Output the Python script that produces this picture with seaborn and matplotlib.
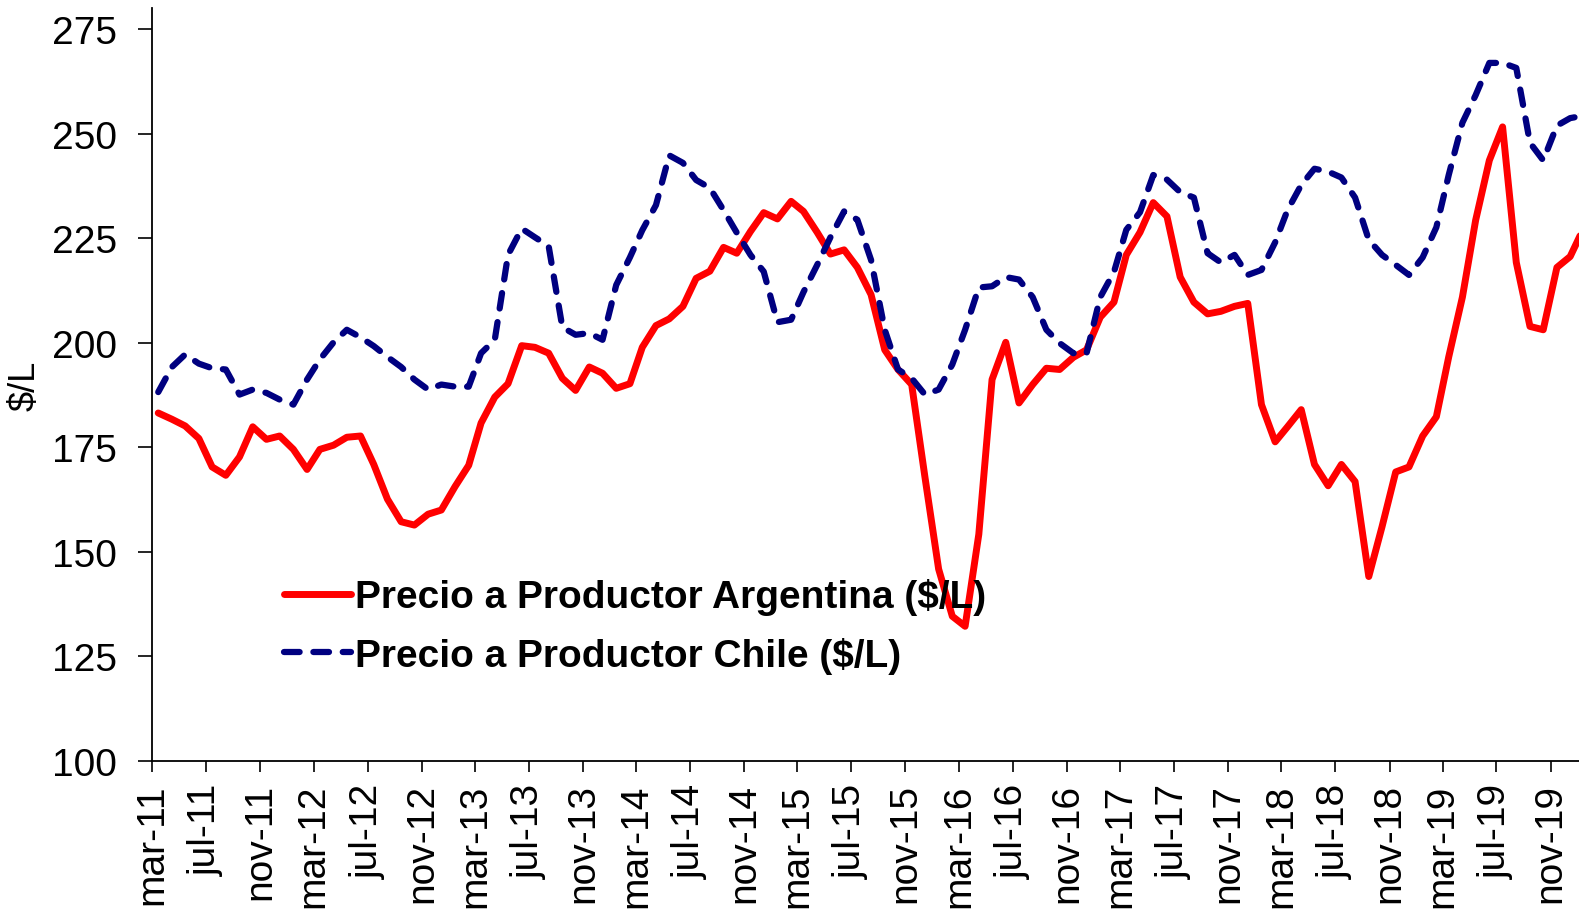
import pandas as pd
import matplotlib
matplotlib.use("Agg")
import matplotlib.pyplot as plt
import seaborn as sns

# DATA ---------------------------------------------------------------------------------------
# monthly prices, mar-11 to jan-20 ($/L)
start_month = "2011-03"
n_months = 107

argentina = [183.2, 181.7, 180.1, 177.1, 170.3, 168.3, 172.7, 179.9, 176.9, 177.7,
             174.5, 169.7, 174.5, 175.5, 177.4, 177.7, 170.9, 162.6, 157.2, 156.4,
             159.0, 160.0, 165.6, 170.7, 180.8, 187.0, 190.2, 199.3, 198.9, 197.5,
             191.5, 188.6, 194.2, 192.7, 189.1, 190.2, 198.9, 204.1, 205.7, 208.7,
             215.4, 217.1, 222.8, 221.4, 226.6, 231.1, 229.6, 233.8, 231.4, 226.4,
             221.2, 222.2, 218.0, 211.5, 198.3, 193.6, 190.0, 167.9, 145.9, 134.6,
             132.2, 154.2, 191.2, 200.1, 185.6, 190.0, 193.9, 193.6, 196.5, 198.3,
             206.1, 209.7, 221.0, 226.4, 233.5, 230.2, 215.7, 209.7, 206.9, 207.5,
             208.7, 209.4, 185.2, 176.3, 179.9, 184.0, 170.9, 165.8, 170.9, 166.8,
             144.1, 156.0, 169.1, 170.3, 177.7, 182.3, 196.6, 210.9, 229.3, 243.6,
             251.6, 219.2, 203.9, 203.1, 218.0, 220.6, 227.5]

chile = [188.2, 194.2, 197.2, 195.0, 193.9, 193.6, 187.6, 188.8, 188.0, 186.4,
         185.2, 191.2, 196.0, 200.1, 203.1, 201.3, 199.2, 196.6, 194.2, 191.2,
         188.8, 190.0, 189.5, 189.5, 197.5, 200.7, 221.0, 227.3, 225.2, 223.1,
         203.7, 201.9, 202.3, 200.7, 213.8, 220.4, 226.9, 232.9, 244.8, 243.0,
         238.9, 237.0, 231.7, 226.3, 221.0, 217.0, 204.9, 205.5, 212.1, 218.6,
         225.2, 231.4, 229.4, 219.8, 203.1, 193.6, 191.5, 187.6, 188.8, 194.8,
         203.1, 213.2, 213.5, 215.7, 215.1, 210.9, 203.1, 199.9, 197.5, 197.5,
         210.9, 216.9, 227.0, 231.2, 240.1, 239.0, 236.0, 234.7, 221.4, 219.2,
         221.0, 216.2, 217.4, 224.0, 231.7, 237.7, 241.6, 240.9, 239.5, 234.7,
         224.6, 221.0, 218.6, 216.2, 220.4, 227.6, 240.1, 252.6, 259.2, 266.9,
         266.9, 265.7, 247.8, 243.6, 251.9, 253.7, 254.3]

tick_labels = ["mar-11", "jul-11", "nov-11", "mar-12", "jul-12", "nov-12", "mar-13",
               "jul-13", "nov-13", "mar-14", "jul-14", "nov-14", "mar-15", "jul-15",
               "nov-15", "mar-16", "jul-16", "nov-16", "mar-17", "jul-17", "nov-17",
               "mar-18", "jul-18", "nov-18", "mar-19", "jul-19", "nov-19"]

label_arg = "Precio a Productor Argentina ($/L)"
label_chi = "Precio a Productor Chile ($/L)"

# points sit mid-month, ticks on the 1st
dates = pd.date_range(start_month, periods=n_months, freq="MS") + pd.Timedelta(days=14)
data = pd.DataFrame({"Fecha": dates, "Argentina": argentina, "Chile": chile})
tick_pos = pd.date_range(start_month, periods=len(tick_labels), freq="4MS")

# PLOT ---------------------------------------------------------------------------------------
sns.set_style("white")
plt.rcParams["font.family"] = ["Liberation Sans", "DejaVu Sans"]
plt.rcParams["text.color"] = "black"
plt.rcParams["axes.labelcolor"] = "black"
plt.rcParams["xtick.color"] = "black"
plt.rcParams["ytick.color"] = "black"

fig = plt.figure(figsize=(15.79, 9.12), dpi=100)
ax = fig.add_axes([0.0963, 0.1645, 0.9037, 0.8255])

sns.lineplot(data, x="Fecha", y="Argentina", ax=ax, color="#FF0000",
             linewidth=5, solid_capstyle="round", solid_joinstyle="round", label=label_arg)
sns.lineplot(data, x="Fecha", y="Chile", ax=ax, color="#000080",
             linewidth=4.5, linestyle=(0, (2.5, 2.2)), dash_capstyle="round",
             dash_joinstyle="round", label=label_chi)

ax.set_xlim(pd.Timestamp("2011-03-01"), pd.Timestamp("2020-01-04"))
ax.set_ylim(100, 280)
ax.set_yticks(range(100, 276, 25))
ax.set_xticks(tick_pos)
ax.set_xticklabels(tick_labels, rotation=90)

ax.set_xlabel("")
ax.set_ylabel("$/L", fontsize=26, labelpad=7)

ax.tick_params(axis="y", direction="out", length=10, width=1.2, pad=15, labelsize=28, left=True)
ax.tick_params(axis="x", direction="out", length=8, width=1.2, pad=8, labelsize=28, bottom=True)

sns.despine(ax=ax)
for side in ["left", "bottom"]:
    ax.spines[side].set_color("black")
    ax.spines[side].set_linewidth(1.3)

ax.legend(loc="upper left", bbox_to_anchor=(0.180, 0.365), bbox_transform=fig.transFigure,
          frameon=False, borderaxespad=0, borderpad=0, handlelength=1.72, handletextpad=0.1,
          labelspacing=0.56, prop={"weight": "bold", "size": 28})

plt.savefig("out.png", dpi=100)
